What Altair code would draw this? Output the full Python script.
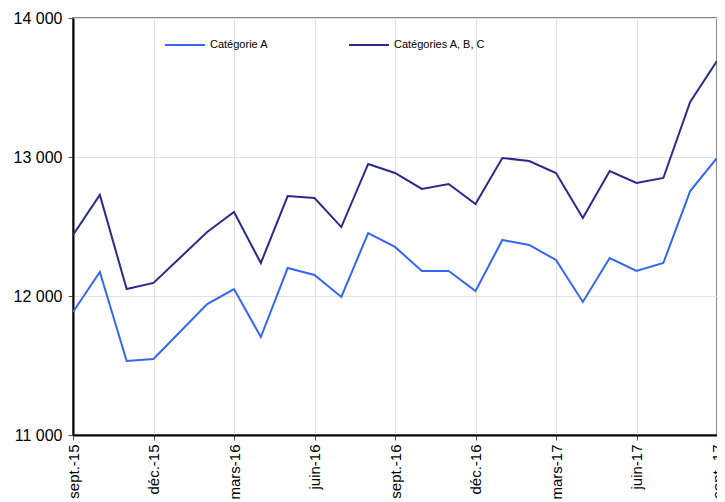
import altair as alt
import pandas as pd

months = ["sept.-15", "oct.-15", "nov.-15", "déc.-15", "janv.-16", "févr.-16", "mars-16",
          "avr.-16", "mai-16", "juin-16", "juil.-16", "août-16", "sept.-16", "oct.-16",
          "nov.-16", "déc.-16", "janv.-17", "févr.-17", "mars-17", "avr.-17", "mai-17",
          "juin-17", "juil.-17", "août-17", "sept.-17"]

cat_a = [11885, 12173, 11532, 11547, 11745, 11942, 12050, 11705, 12201, 12151, 11993,
         12453, 12353, 12180, 12180, 12036, 12403, 12367, 12259, 11957, 12273, 12180,
         12237, 12755, 12993]

cat_abc = [12439, 12727, 12050, 12094, 12277, 12460, 12604, 12237, 12719, 12705, 12496,
           12950, 12885, 12770, 12806, 12662, 12993, 12971, 12885, 12561, 12899, 12813,
           12849, 13396, 13691]

series = ["Catégorie A", "Catégories A, B, C"]
colors = ["#3366f2", "#2b2a8a"]

rows = []
for name, vals in zip(series, [cat_a, cat_abc]):
    for m, v in zip(months, vals):
        rows.append({"mois": m, "valeur": v, "serie": name})
df = pd.DataFrame(rows)

tick_months = months[::3]

chart = alt.Chart(df).mark_line(strokeWidth=2).encode(
    x=alt.X("mois:O", sort=months,
            scale=alt.Scale(type="point", padding=0),
            axis=alt.Axis(title=None, values=tick_months, labelAngle=-90,
                          labelFont="Liberation Sans", labelFontSize=15, labelColor="#000",
                          domainColor="#000", domainWidth=2, tickColor="#555", tickSize=5,
                          grid=True, gridColor="#e0e0e0", labelPadding=4)),
    y=alt.Y("valeur:Q", scale=alt.Scale(domain=[11000, 14000], nice=False, zero=False),
            axis=alt.Axis(title=None, values=[11000, 12000, 13000, 14000],
                          labelExpr="replace(format(datum.value, ',d'), ',', ' ')",
                          labelFont="Liberation Sans", labelFontSize=16, labelColor="#000",
                          domainColor="#000", domainWidth=2, tickColor="#555", tickSize=5,
                          grid=True, gridColor="#e0e0e0", labelPadding=6)),
    color=alt.Color("serie:N", scale=alt.Scale(domain=series, range=colors),
                    legend=alt.Legend(title=None, orient="none", direction="horizontal",
                                      legendX=91, legendY=6, symbolType="stroke",
                                      symbolSize=1600, symbolStrokeWidth=2,
                                      labelFont="Liberation Sans", labelFontSize=11,
                                      labelColor="#000", columnPadding=76)),
).properties(
    width=644, height=417,
    autosize=alt.AutoSizeParams(type="none"),
    padding={"left": 65, "top": 10, "right": 0, "bottom": 67},
).configure_view(stroke="#888", strokeWidth=2)

chart.save("out.html", embed_options={"renderer": "svg", "actions": False})
